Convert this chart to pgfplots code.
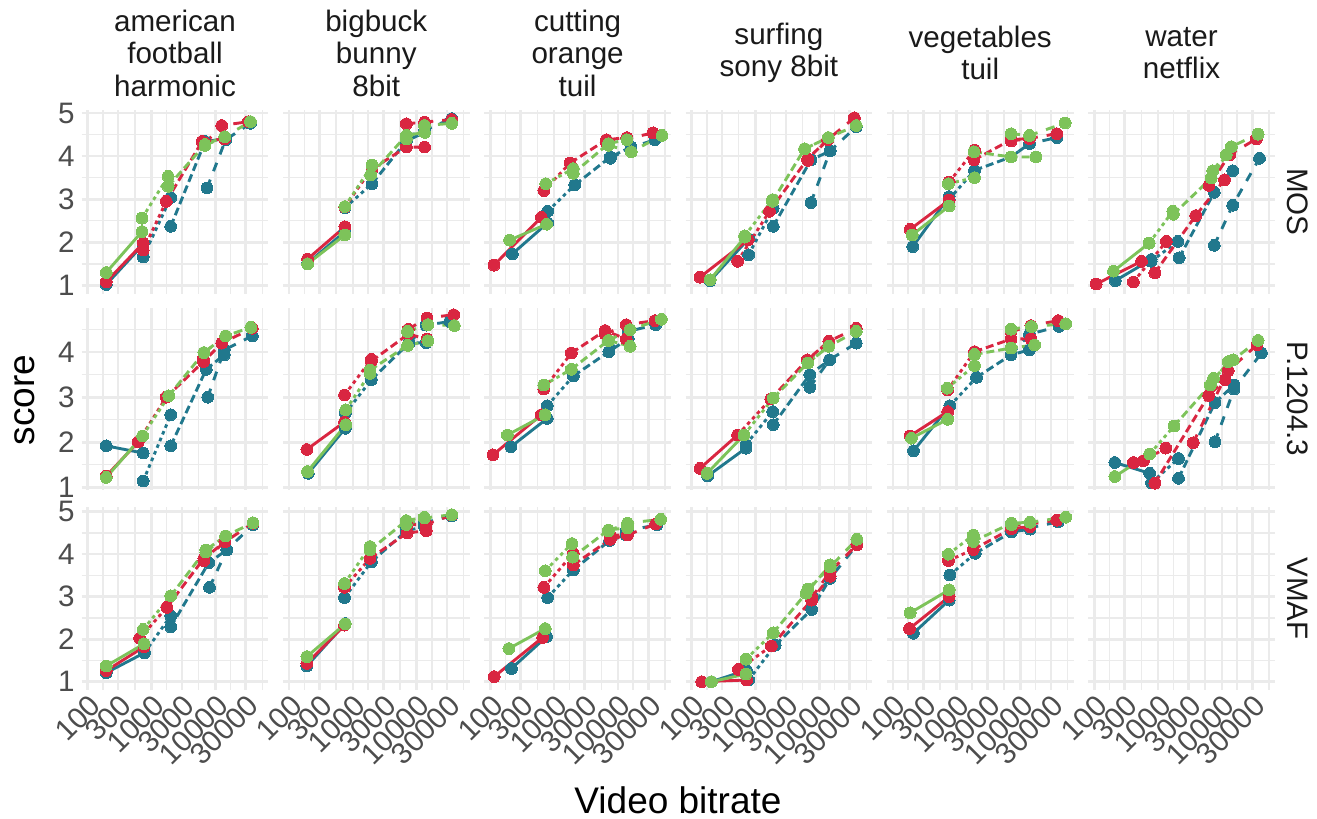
\documentclass[border=0pt]{standalone}
\usepackage{fontspec}
\setmainfont{Liberation Sans}
\usepackage{pgfplots}
\pgfplotsset{compat=1.18}

\definecolor{cb}{HTML}{21788D}
\definecolor{cr}{HTML}{D92641}
\definecolor{cg}{HTML}{7DC35A}
\definecolor{gridc}{HTML}{EBEBEB}
\definecolor{tickc}{HTML}{4D4D4D}
\definecolor{stripc}{HTML}{1A1A1A}

\newcommand\ticksize{\fontsize{14.8}{16.25}\selectfont}
\newcommand\titlesize{\fontsize{18.5}{22}\selectfont}

\pgfplotsset{
  pan/.style={
    scale only axis, width=93.3pt,
    xmin=80.4, xmax=67600,
    xtick={100,300,1000,3000,10000,30000},
    minor xtick={173.2,547.7,1732,5477,17321,54772},
    ytick={1,2,3,4,5}, minor ytick={1.5,2.5,3.5,4.5},
    grid=both,
    major grid style={gridc, line width=1.3pt},
    minor grid style={gridc, line width=0.7pt},
    axis line style={draw=none},
    major tick length=0pt, minor tick length=0pt,
    tick label style={font=\ticksize, text=tickc},
    /pgf/number format/assume math mode=true,
    anchor=north west,
  },
  r1/.style={ymin=0.80, ymax=5.07, height=92pt},
  r2/.style={ymin=0.94, ymax=4.98, height=91pt},
  r3/.style={ymin=0.805, ymax=5.11, height=91.5pt},
  nox/.style={xticklabels={}},
  noy/.style={yticklabels={}},
  botx/.style={xticklabels={100,300,1000,3000,10000,30000},
    xticklabel style={rotate=45, anchor=north east, inner sep=1pt}},
  lt22/.style={dash pattern=on 1.8pt off 1.8pt},
  lt42/.style={dash pattern=on 4pt off 2pt},
  lt44/.style={dash pattern=on 4.5pt off 4.5pt},
}

% one codec: solid (360p), then the 720p, 1080p and 2160p ladders
\newcommand\linesof[5]{%
  \addplot[#1, line width=1.45pt, no markers, solid] coordinates {#2};
  \addplot[#1, line width=1.45pt, no markers, lt22] coordinates {#3};
  \addplot[#1, line width=1.45pt, no markers, lt42] coordinates {#4};
  \addplot[#1, line width=1.45pt, no markers, lt44] coordinates {#5};}
\newcommand\marksof[5]{%
  \addplot[only marks, mark=*, mark size=2.95pt,
    mark options={draw=#1, fill=#1, line width=0pt}] coordinates {#2 #3 #4 #5};}
% lines of all three codecs first, dots on top
\newcommand\panel[3]{\linesof{cb}#1\linesof{cr}#2\linesof{cg}#3%
  \marksof{cb}#1\marksof{cr}#2\marksof{cg}#3}

\begin{document}
\begin{tikzpicture}
\useasboundingbox (0,0) rectangle (658.5pt,-409.5pt);

% ---------------- MOS ----------------
\begin{semilogxaxis}[pan, r1, nox, at={(40.85pt,-55pt)}]
\panel
{{(195,1.02)(740,1.95)}{(740,1.66)(2000,3.04)}{(2000,2.37)(6900,4.34)(14000,4.40)}{(7400,3.26)(14500,4.38)(35500,4.76)}}
{{(195,1.08)(740,1.98)}{(740,1.82)(1700,2.95)}{(1700,2.95)(6200,4.34)(14000,4.40)}{(6900,4.30)(12600,4.71)(33000,4.80)}}
{{(195,1.30)(710,2.25)}{(710,2.56)(1820,3.53)}{(1820,3.30)(6900,4.27)(14000,4.45)}{(6900,4.25)(14000,4.45)(35500,4.80)}}
\end{semilogxaxis}
\begin{semilogxaxis}[pan, r1, nox, noy, at={(141.5pt,-55pt)}]
\panel
{{(195,1.51)(750,2.25)}{(750,2.80)(2000,3.36)}{(2000,3.36)(6900,4.35)(13300,4.55)}{(6900,4.45)(13300,4.60)(35500,4.87)}}
{{(195,1.61)(750,2.36)}{(750,2.82)(2000,3.72)}{(2000,3.70)(6900,4.21)(13300,4.21)}{(6900,4.75)(13300,4.79)(35500,4.85)}}
{{(195,1.50)(750,2.17)}{(750,2.83)(2000,3.79)}{(1900,3.56)(6900,4.48)(13300,4.55)}{(6900,4.40)(13300,4.71)(35500,4.76)}}
\end{semilogxaxis}
\begin{semilogxaxis}[pan, r1, nox, noy, at={(242.15pt,-55pt)}]
\panel
{{(221,1.73)(790,2.45)}{(790,2.72)(2100,3.33)}{(2100,3.33)(7600,3.98)(16000,4.21)}{(7600,3.95)(16000,4.20)(38000,4.38)}}
{{(114,1.47)(630,2.58)}{(690,3.20)(1780,3.84)}{(1780,3.84)(6600,4.38)(13800,4.43)}{(6600,4.32)(13800,4.40)(35500,4.54)}}
{{(200,2.05)(760,2.42)}{(740,3.36)(2000,3.71)}{(2000,3.60)(7100,4.29)(13800,4.38)}{(7100,4.25)(16200,4.10)(49000,4.48)}}
\end{semilogxaxis}
\begin{semilogxaxis}[pan, r1, nox, noy, at={(342.8pt,-55pt)}]
\panel
{{(195,1.11)(780,2.08)}{(780,1.71)(1900,2.79)}{(1900,2.37)(7400,3.91)(14800,4.12)}{(7400,2.92)(14800,4.12)(38000,4.68)}}
{{(135,1.19)(770,2.06)}{(525,1.56)(1660,2.72)}{(1660,2.72)(6600,3.94)(13500,4.38)}{(6600,3.90)(13500,4.38)(35500,4.89)}}
{{(195,1.13)(680,2.12)}{(680,2.15)(1850,2.99)}{(1850,2.95)(5900,4.17)(13900,4.43)}{(5900,4.17)(13900,4.43)(38000,4.71)}}
\end{semilogxaxis}
\begin{semilogxaxis}[pan, r1, nox, noy, at={(443.45pt,-55pt)}]
\panel
{{(204,1.90)(760,3.06)}{(760,3.00)(1900,3.67)}{(1900,3.67)(7100,3.98)(13800,4.29)}{(7100,3.98)(13800,4.29)(37000,4.43)}}
{{(186,2.30)(760,2.98)}{(760,3.40)(1900,4.14)}{(1860,3.91)(7100,4.38)(13800,4.41)}{(7100,4.35)(13800,4.41)(37000,4.52)}}
{{(200,2.17)(760,2.84)}{(740,3.36)(1900,3.50)}{(1860,4.10)(7100,3.98)(17400,3.98)}{(7100,4.52)(13800,4.48)(50000,4.77)}}
\end{semilogxaxis}
\begin{semilogxaxis}[pan, r1, nox, noy, at={(544.1pt,-55pt)}]
\panel
{{(214,1.11)(780,1.60)}{(780,1.56)(2040,2.02)}{(2140,1.64)(7600,3.16)(14800,3.66)}{(7600,1.93)(14800,2.86)(38900,3.95)}}
{{(107,1.03)(550,1.56)}{(410,1.08)(1350,2.02)}{(890,1.29)(3890,2.62)(11000,3.45)}{(6300,3.32)(13200,4.03)(34700,4.40)}}
{{(200,1.33)(725,1.98)}{(725,1.98)(1700,2.72)}{(1740,2.65)(6800,3.49)(11700,4.03)}{(7200,3.66)(14100,4.22)(37000,4.51)}}
\end{semilogxaxis}

% ---------------- P.1204.3 ----------------
\begin{semilogxaxis}[pan, r2, nox, at={(40.85pt,-154pt)}]
\panel
{{(195,1.92)(740,1.76)}{(740,1.14)(2000,2.61)}{(2000,1.92)(7200,3.62)(13800,3.94)}{(7600,3.00)(13800,4.05)(38000,4.36)}}
{{(195,1.25)(620,2.01)}{(620,2.01)(1700,3.00)}{(1700,3.00)(6500,3.79)(12600,4.20)}{(6500,3.85)(12600,4.20)(38000,4.53)}}
{{(195,1.22)(725,2.14)}{(725,2.14)(1860,3.03)}{(1860,3.03)(6600,3.99)(14500,4.36)}{(6600,3.99)(14500,4.36)(36000,4.55)}}
\end{semilogxaxis}
\begin{semilogxaxis}[pan, r2, nox, noy, at={(141.5pt,-154pt)}]
\panel
{{(200,1.31)(760,2.31)}{(760,2.64)(1950,3.39)}{(1950,3.39)(7600,4.20)(14100,4.21)}{(7600,4.20)(14100,4.60)(33000,4.68)}}
{{(190,1.84)(740,2.45)}{(740,3.05)(1950,3.84)}{(1950,3.80)(7400,4.40)(14500,4.29)}{(7400,4.51)(14500,4.76)(38000,4.83)}}
{{(195,1.35)(775,2.39)}{(775,2.72)(1860,3.53)}{(1860,3.60)(7200,4.15)(15000,4.25)}{(7200,4.46)(15000,4.61)(39000,4.59)}}
\end{semilogxaxis}
\begin{semilogxaxis}[pan, r2, nox, noy, at={(242.15pt,-154pt)}]
\panel
{{(210,1.90)(780,2.53)}{(780,2.81)(2000,3.47)}{(2000,3.47)(7200,4.01)(14500,4.30)}{(7200,4.01)(14500,4.46)(39000,4.61)}}
{{(110,1.72)(630,2.61)}{(690,3.18)(1860,3.98)}{(1860,3.98)(6300,4.48)(13500,4.29)}{(6300,4.40)(13500,4.61)(38000,4.70)}}
{{(185,2.16)(720,2.61)}{(690,3.27)(1860,3.62)}{(1860,3.62)(7100,4.26)(15500,4.13)}{(7100,4.26)(15500,4.50)(48000,4.73)}}
\end{semilogxaxis}
\begin{semilogxaxis}[pan, r2, nox, noy, at={(342.8pt,-154pt)}]
\panel
{{(178,1.25)(710,1.87)}{(710,1.95)(1860,2.68)}{(1900,2.39)(7100,3.50)(14500,3.83)}{(7100,3.22)(14500,3.83)(38000,4.20)}}
{{(135,1.42)(525,2.16)}{(525,2.16)(1740,2.96)}{(1740,2.96)(6500,3.83)(14100,4.24)}{(6500,3.80)(14100,4.24)(38000,4.53)}}
{{(174,1.31)(660,2.16)}{(660,2.16)(1900,2.98)}{(1900,2.98)(6600,3.76)(14100,4.13)}{(6600,3.76)(14100,4.13)(38000,4.46)}}
\end{semilogxaxis}
\begin{semilogxaxis}[pan, r2, nox, noy, at={(443.45pt,-154pt)}]
\panel
{{(210,1.81)(780,2.81)}{(780,2.81)(2040,3.44)}{(2040,3.44)(7100,3.94)(13800,4.05)}{(7100,3.94)(13800,4.40)(40000,4.57)}}
{{(185,2.14)(720,2.68)}{(720,3.16)(1900,4.01)}{(1900,4.01)(7100,4.29)(14500,4.30)}{(7100,4.45)(14500,4.59)(39000,4.70)}}
{{(195,2.09)(720,2.51)}{(710,3.20)(1900,3.70)}{(1900,3.95)(7100,4.09)(16600,4.16)}{(7100,4.51)(14800,4.57)(51000,4.63)}}
\end{semilogxaxis}
\begin{semilogxaxis}[pan, r2, nox, noy, at={(544.1pt,-154pt)}]
\panel
{{(210,1.55)(740,1.31)}{(790,1.10)(2090,1.64)}{(2090,1.20)(7800,2.88)(15500,3.27)}{(7800,2.01)(15500,3.18)(41700,3.98)}}
{{(410,1.55)(590,1.59)}{(590,1.59)(1320,1.87)}{(890,1.09)(6200,3.04)(11200,3.39)}{(3550,1.99)(12600,3.59)(35500,4.16)}}
{{(210,1.24)(740,1.74)}{(740,1.74)(1780,2.36)}{(1780,2.36)(6600,3.27)(12600,3.79)}{(7400,3.42)(15100,3.83)(37000,4.26)}}
\end{semilogxaxis}

% ---------------- VMAF ----------------
\begin{semilogxaxis}[pan, r3, botx, at={(40.85pt,-253.5pt)}]
\panel
{{(195,1.21)(775,1.68)}{(775,1.68)(2000,2.55)}{(2000,2.29)(7900,3.80)(15100,4.10)}{(8100,3.22)(15100,4.10)(38900,4.69)}}
{{(195,1.26)(760,1.82)}{(650,2.02)(1740,2.75)}{(1740,2.75)(6600,3.90)(14100,4.29)}{(6600,3.85)(14100,4.29)(38900,4.73)}}
{{(195,1.37)(760,1.89)}{(740,2.23)(2000,3.02)}{(2000,3.02)(7100,4.10)(14500,4.43)}{(7100,4.05)(14500,4.43)(38900,4.74)}}
\end{semilogxaxis}
\begin{semilogxaxis}[pan, r3, botx, noy, at={(141.5pt,-253.5pt)}]
\panel
{{(190,1.37)(760,2.37)}{(740,2.98)(1950,3.82)}{(1950,3.82)(6900,4.55)(13200,4.65)}{(6900,4.69)(13200,4.74)(35500,4.90)}}
{{(190,1.43)(740,2.33)}{(740,3.22)(1860,3.90)}{(1860,3.90)(7100,4.50)(14100,4.55)}{(7100,4.69)(14100,4.70)(35500,4.92)}}
{{(190,1.59)(760,2.36)}{(740,3.31)(1860,4.18)}{(1860,4.10)(6900,4.79)(13200,4.87)}{(6900,4.70)(13200,4.85)(35500,4.93)}}
\end{semilogxaxis}
\begin{semilogxaxis}[pan, r3, botx, noy, at={(242.15pt,-253.5pt)}]
\panel
{{(214,1.31)(760,2.06)}{(790,2.98)(2000,3.63)}{(2000,3.63)(7400,4.32)(13500,4.45)}{(7400,4.32)(13500,4.55)(40700,4.69)}}
{{(115,1.12)(660,2.04)}{(690,3.22)(2000,4.02)}{(2000,3.75)(7600,4.35)(14100,4.45)}{(7600,4.45)(14100,4.45)(38900,4.71)}}
{{(195,1.78)(725,2.25)}{(725,3.61)(1900,4.25)}{(1950,3.93)(7100,4.57)(14100,4.62)}{(7100,4.55)(14100,4.73)(46800,4.82)}}
\end{semilogxaxis}
\begin{semilogxaxis}[pan, r3, botx, noy, at={(342.8pt,-253.5pt)}]
\panel
{{(204,1.00)(725,1.27)}{(780,1.04)(2040,1.86)}{(2040,1.86)(7600,2.70)(14800,3.43)}{(7600,2.92)(14800,3.43)(38900,4.22)}}
{{(144,1.00)(725,1.04)}{(540,1.29)(1780,1.84)}{(1780,1.84)(7600,2.92)(14800,3.48)}{(7600,2.98)(14800,3.59)(38900,4.22)}}
{{(204,1.00)(710,1.18)}{(710,1.53)(1900,2.15)}{(1900,2.15)(6200,3.08)(14800,3.75)}{(6600,3.18)(14800,3.70)(38900,4.35)}}
\end{semilogxaxis}
\begin{semilogxaxis}[pan, r3, botx, noy, at={(443.45pt,-253.5pt)}]
\panel
{{(209,2.14)(760,2.92)}{(780,3.51)(1950,4.02)}{(1950,4.02)(7200,4.52)(14100,4.59)}{(7200,4.57)(14100,4.62)(38900,4.76)}}
{{(182,2.25)(760,3.00)}{(740,3.85)(1820,4.11)}{(1820,4.11)(7200,4.60)(14100,4.65)}{(7200,4.69)(14100,4.71)(37000,4.80)}}
{{(186,2.62)(760,3.16)}{(740,4.00)(1820,4.45)}{(1820,4.30)(7200,4.73)(14100,4.75)}{(7200,4.70)(14100,4.75)(51000,4.87)}}
\end{semilogxaxis}
\begin{semilogxaxis}[pan, r3, botx, noy, at={(544.1pt,-253.5pt)}]
\end{semilogxaxis}

% facet strips
\foreach \lab [count=\i from 0] in {american\\football\\harmonic, bigbuck\\bunny\\8bit,
    cutting\\orange\\tuil, surfing\\sony 8bit, vegetables\\tuil, water\\netflix}
  \node[align=center, text=stripc, font=\ticksize] at ({87.5pt+\i*100.65pt},-26.5pt) {\lab};
\node[rotate=-90, text=stripc, font=\ticksize] at (649pt,-101pt) {MOS};
\node[rotate=-90, text=stripc, font=\ticksize] at (649pt,-199.5pt) {P.1204.3};
\node[rotate=-90, text=stripc, font=\ticksize] at (649pt,-299.25pt) {VMAF};

% axis titles
\node[rotate=90, font=\titlesize] at (12.5pt,-200pt) {score};
\node[font=\titlesize] at (339pt,-400pt) {Video bitrate};
\end{tikzpicture}
\end{document}
